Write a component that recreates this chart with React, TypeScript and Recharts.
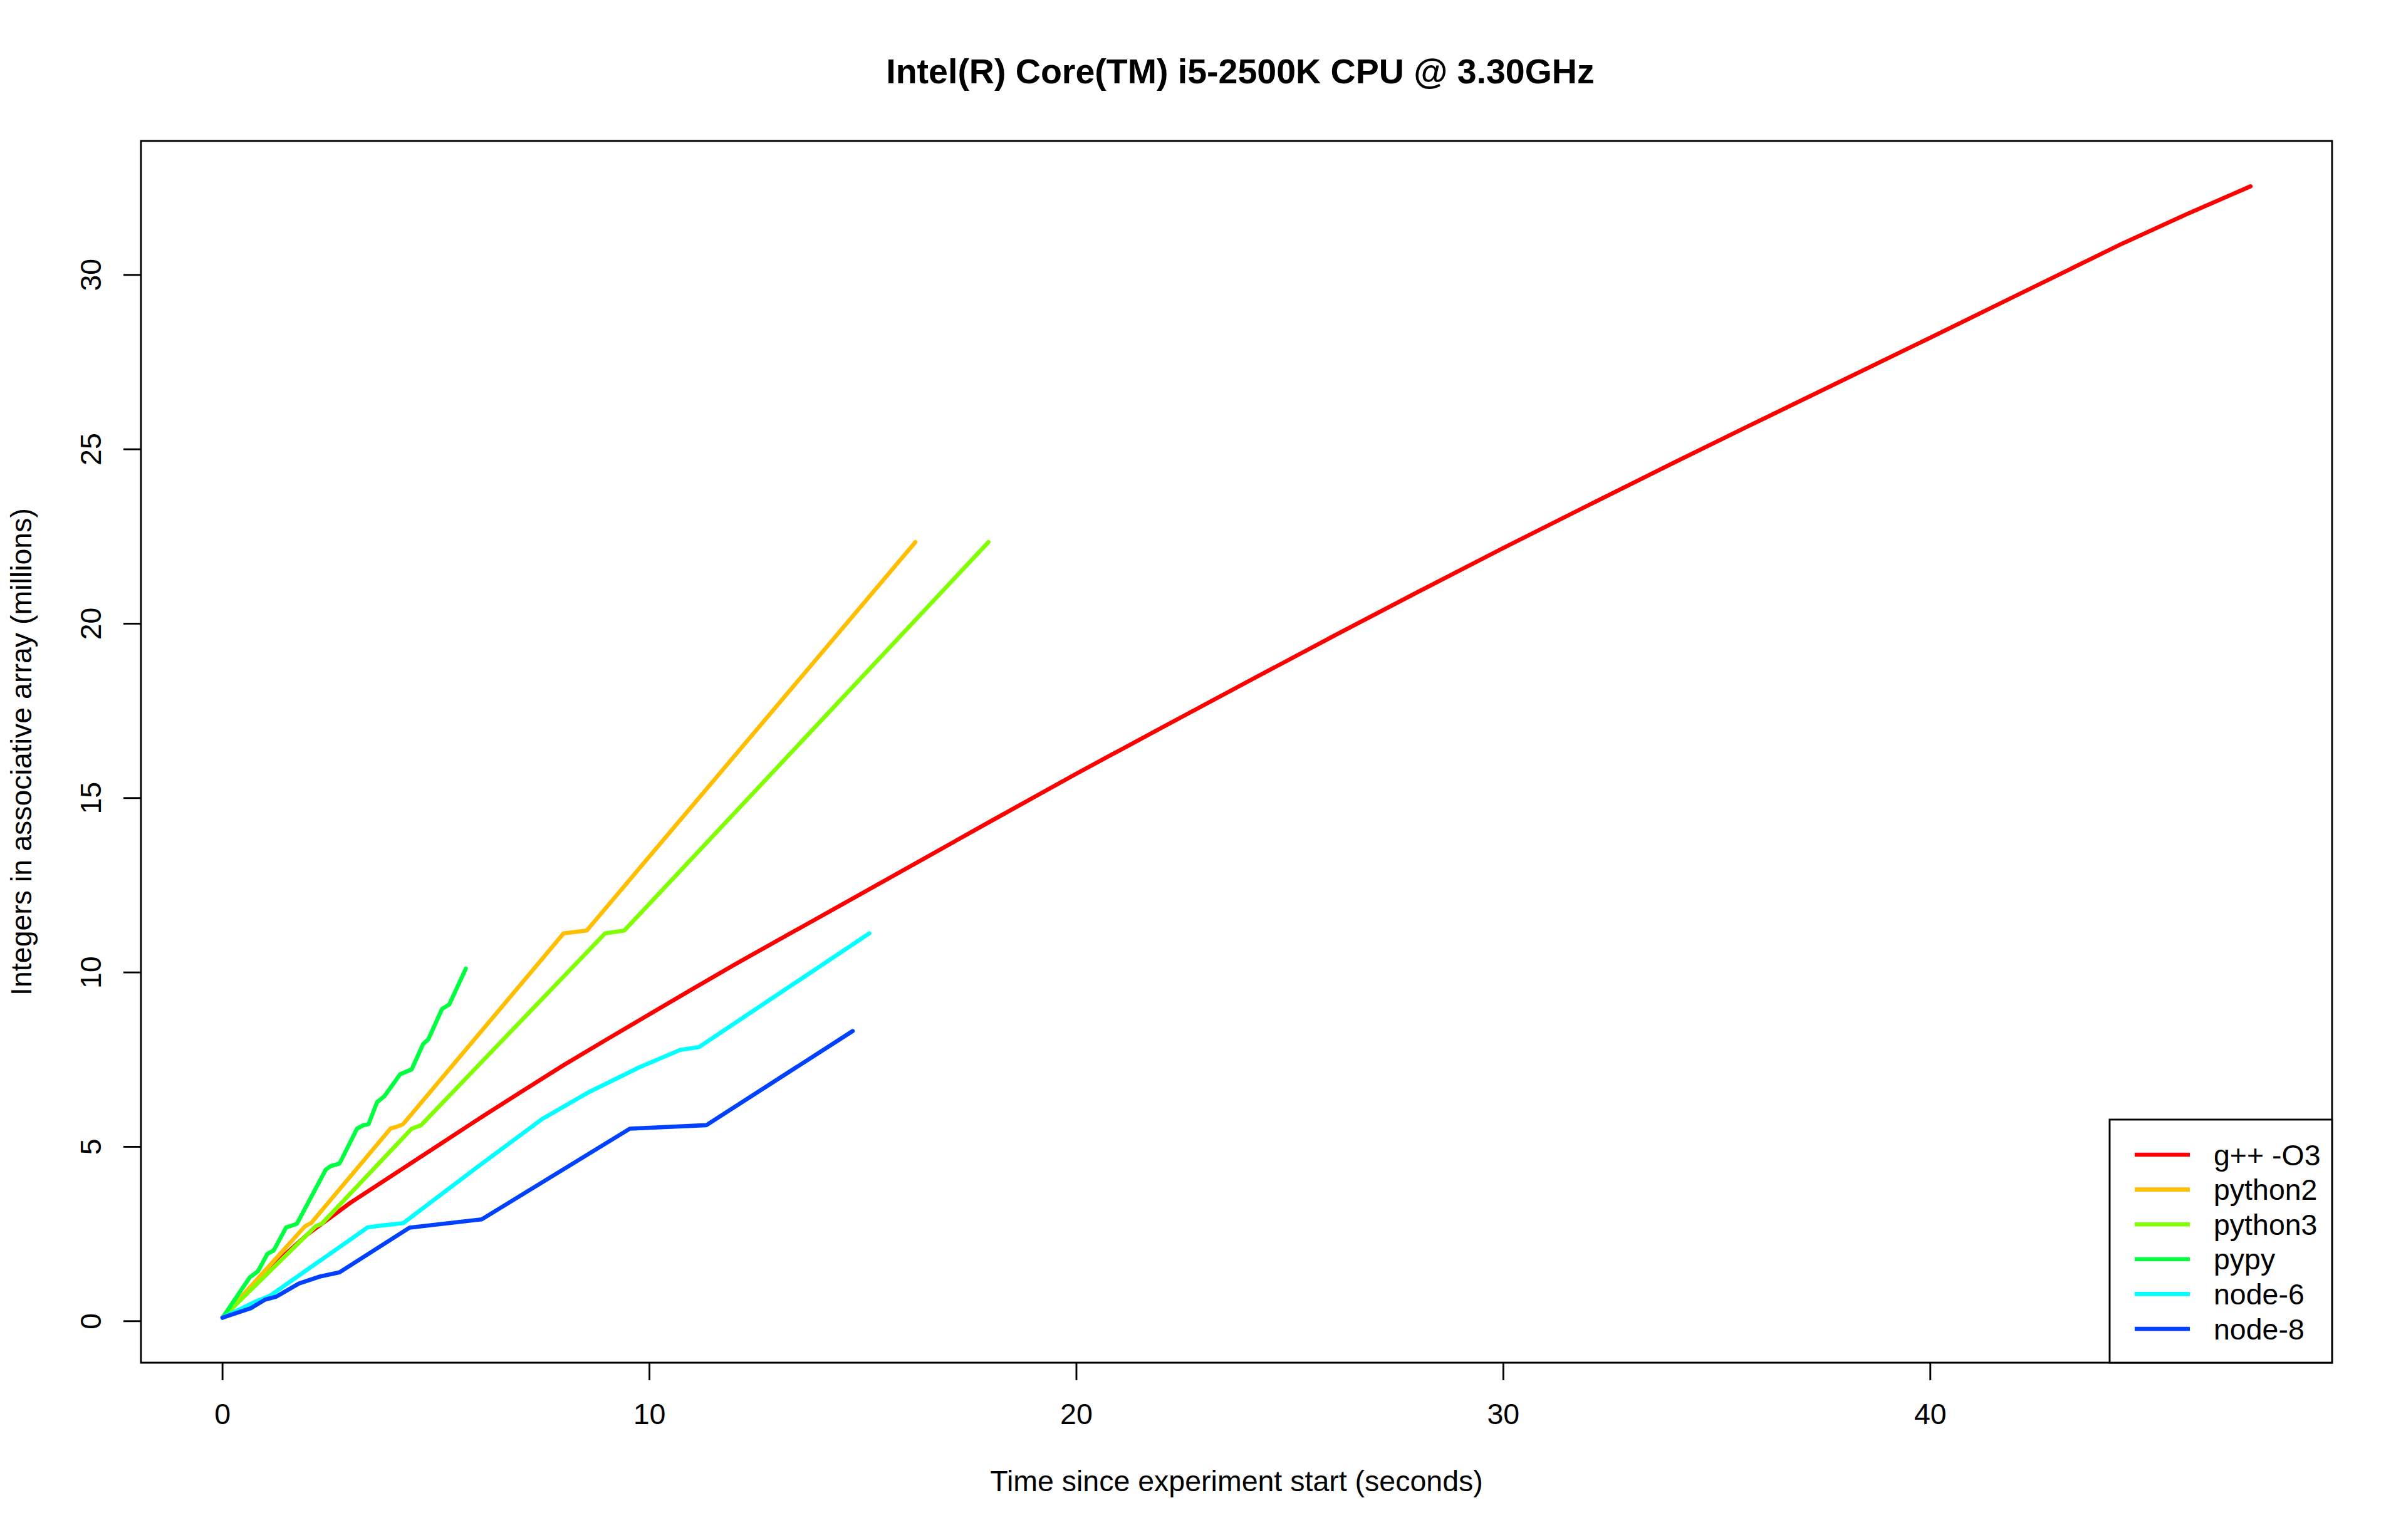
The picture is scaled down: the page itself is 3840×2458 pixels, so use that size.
import React from 'react';
import { LineChart, Line, XAxis, YAxis, ReferenceArea } from 'recharts';

const FONT = '"Liberation Sans", Arial, Helvetica, sans-serif';

const SERIES_NAMES = ['g++ -O3', 'python2', 'python3', 'pypy', 'node-6', 'node-8'];
const SERIES_COLORS = ['#FF0000', '#FFBF00', '#80FF00', '#00FF40', '#00FFFF', '#0040FF'];

const gppX = [0, 1, 1.5, 2, 3, 4, 5, 6, 7, 8, 9, 10, 11, 12, 14, 16, 18, 20, 22, 24, 26, 28, 30, 32, 34, 36, 38, 40, 42, 44.5, 46, 47.5];
const gppY = [0.1, 1.35, 1.95, 2.5, 3.4, 4.2, 5.0, 5.8, 6.58, 7.35, 8.08, 8.8, 9.52, 10.23, 11.6, 12.97, 14.34, 15.7, 17.02, 18.33, 19.63, 20.91, 22.17, 23.4, 24.62, 25.82, 27.01, 28.2, 29.4, 30.9, 31.74, 32.54];

const py2X = [0, 1.93, 2.08, 3.94, 4.07, 4.23, 7.99, 8.53, 16.23];
const py2Y = [0.1, 2.72, 2.82, 5.53, 5.57, 5.65, 11.12, 11.2, 22.34];

const py3X = [0, 2.18, 2.33, 4.43, 4.65, 8.96, 9.41, 17.94];
const py3Y = [0.1, 2.72, 2.8, 5.52, 5.62, 11.12, 11.2, 22.34];

const pypyX = [0, 0.64, 0.83, 1.05, 1.2, 1.49, 1.74, 2.42, 2.54, 2.74, 3.15, 3.3, 3.42, 3.62, 3.79, 4.16, 4.43, 4.7, 4.82, 5.14, 5.31, 5.7];
const pypyY = [0.1, 1.26, 1.43, 1.93, 2.03, 2.69, 2.79, 4.35, 4.45, 4.52, 5.52, 5.62, 5.65, 6.28, 6.45, 7.08, 7.22, 7.95, 8.08, 8.95, 9.08, 10.11];

const node6X = [0, 0.75, 1.1, 3.4, 3.7, 4.23, 6.0, 7.49, 8.6, 9.78, 10.72, 11.16, 15.15];
const node6Y = [0.1, 0.55, 0.72, 2.69, 2.74, 2.81, 4.45, 5.8, 6.58, 7.29, 7.78, 7.86, 11.12];

const node8X = [0, 0.66, 1.0, 1.25, 1.79, 2.28, 2.74, 4.38, 6.07, 9.54, 11.33, 14.76];
const node8Y = [0.1, 0.37, 0.62, 0.7, 1.08, 1.28, 1.4, 2.68, 2.92, 5.52, 5.62, 8.32];

const X_TICKS = [0, 10, 20, 30, 40];
const Y_TICKS = [0, 5, 10, 15, 20, 25, 30];
const X_DOMAIN: [number, number] = [-1.91, 49.41];
const Y_DOMAIN: [number, number] = [-1.19, 33.84];

const TITLE = 'Intel(R) Core(TM) i5-2500K CPU @ 3.30GHz';
const X_LABEL = 'Time since experiment start (seconds)';
const Y_LABEL = 'Integers in associative array (millions)';

const toPoints = (xs: number[], ys: number[]) => xs.map((x, i) => ({ x, y: ys[i] }));

const SERIES_DATA = [
  toPoints(gppX, gppY),
  toPoints(py2X, py2Y),
  toPoints(py3X, py3Y),
  toPoints(pypyX, pypyY),
  toPoints(node6X, node6Y),
  toPoints(node8X, node8Y),
];

// layout
const W = 3840;
const H = 2458;
const PLOT_LEFT = 225;
const PLOT_TOP = 225;
const PLOT_RIGHT = 3722;
const PLOT_BOTTOM = 2175;
const Y_AXIS_W = 200;
const X_AXIS_H = 200;
const TICK = 28;
const FS = 46.5;
const LW = 2.9;
const SERIES_LW = 6.6;

const XTick = (props: any) => {
  const { x, y, payload } = props;
  return (
    <text x={x} y={y} dy={70} textAnchor="middle" fontSize={FS} fontFamily={FONT} fill="#000">
      {payload.value}
    </text>
  );
};

const YTick = (props: any) => {
  const { x, y, payload } = props;
  return (
    <text
      transform={`translate(${x},${y}) rotate(-90)`}
      x={0}
      y={-36.5}
      textAnchor="middle"
      fontSize={FS}
      fontFamily={FONT}
      fill="#000"
    >
      {payload.value}
    </text>
  );
};

export default function App() {
  const legendLeft = 3367;
  const legendTop = 1787;
  const rowStart = 1843;
  const rowGap = 55.6;
  return (
    <div style={{ position: 'absolute', left: 0, top: 0, width: W, height: H, background: '#fff', overflow: 'hidden' }}>
      <LineChart
        width={W}
        height={H}
        margin={{ top: PLOT_TOP, right: W - PLOT_RIGHT, bottom: H - PLOT_BOTTOM - X_AXIS_H, left: PLOT_LEFT - Y_AXIS_W }}
      >
        <XAxis
          type="number"
          dataKey="x"
          domain={X_DOMAIN}
          allowDataOverflow
          ticks={X_TICKS}
          interval={0}
          height={X_AXIS_H}
          axisLine={false}
          tickLine={{ stroke: '#000', strokeWidth: LW }}
          tickSize={TICK}
          tickMargin={0}
          tick={<XTick />}
        />
        <YAxis
          type="number"
          dataKey="y"
          domain={Y_DOMAIN}
          allowDataOverflow
          ticks={Y_TICKS}
          interval={0}
          width={Y_AXIS_W}
          axisLine={false}
          tickLine={{ stroke: '#000', strokeWidth: LW }}
          tickSize={TICK}
          tickMargin={0}
          tick={<YTick />}
        />
        <ReferenceArea
          x1={X_DOMAIN[0]}
          x2={X_DOMAIN[1]}
          y1={Y_DOMAIN[0]}
          y2={Y_DOMAIN[1]}
          fill="none"
          fillOpacity={0}
          stroke="#000"
          strokeWidth={LW}
          ifOverflow="visible"
        />
        {SERIES_DATA.map((d, i) => (
          <Line
            key={SERIES_NAMES[i]}
            data={d}
            dataKey="y"
            name={SERIES_NAMES[i]}
            type="linear"
            stroke={SERIES_COLORS[i]}
            strokeWidth={SERIES_LW}
            dot={false}
            activeDot={false}
            isAnimationActive={false}
            strokeLinejoin="round"
            strokeLinecap="round"
          />
        ))}
      </LineChart>
      <svg
        width={W}
        height={H}
        style={{ position: 'absolute', left: 0, top: 0, pointerEvents: 'none' }}
      >
        <text
          x={(PLOT_LEFT + PLOT_RIGHT) / 2 + 6}
          y={133}
          textAnchor="middle"
          fontSize={55.5}
          fontWeight="bold"
          fontFamily={FONT}
          fill="#000"
        >
          {TITLE}
        </text>
        <text
          x={(PLOT_LEFT + PLOT_RIGHT) / 2}
          y={2380}
          textAnchor="middle"
          fontSize={FS}
          fontFamily={FONT}
          fill="#000"
        >
          {X_LABEL}
        </text>
        <text
          transform={`translate(50,${(PLOT_TOP + PLOT_BOTTOM) / 2}) rotate(-90)`}
          x={0}
          y={0}
          textAnchor="middle"
          fontSize={FS}
          fontFamily={FONT}
          fill="#000"
        >
          {Y_LABEL}
        </text>
        <rect
          x={legendLeft}
          y={legendTop}
          width={PLOT_RIGHT - legendLeft}
          height={PLOT_BOTTOM - legendTop}
          fill="#fff"
          stroke="#000"
          strokeWidth={LW}
        />
        {SERIES_NAMES.map((name, i) => {
          const cy = rowStart + i * rowGap;
          return (
            <g key={name}>
              <line x1={3407} x2={3495} y1={cy} y2={cy} stroke={SERIES_COLORS[i]} strokeWidth={SERIES_LW} />
              <text x={3533} y={cy + 16.5} fontSize={FS} fontFamily={FONT} fill="#000">
                {name}
              </text>
            </g>
          );
        })}
      </svg>
    </div>
  );
}
